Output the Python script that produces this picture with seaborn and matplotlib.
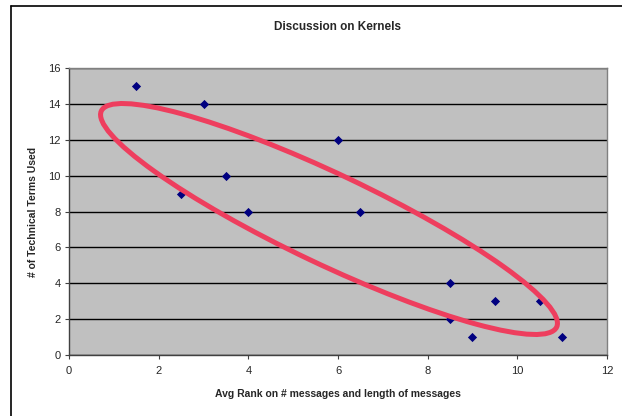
import numpy as np
import pandas as pd
import seaborn as sns
import matplotlib.pyplot as plt
from matplotlib.patches import Ellipse
from matplotlib.lines import Line2D
from matplotlib.transforms import IdentityTransform

# data
avg_rank = [1.5, 3, 6, 3.5, 2.5, 4, 6.5, 8.5, 9.5, 10.5, 8.5, 9, 11]
tech_terms = [15, 14, 12, 10, 9, 8, 8, 4, 3, 3, 2, 1, 1]
x_ticks = [0, 2, 4, 6, 8, 10, 12]
y_ticks = [0, 2, 4, 6, 8, 10, 12, 14, 16]

df = pd.DataFrame({"rank": avg_rank, "terms": tech_terms})

sns.set_style("white")
plt.rcParams["font.family"] = ["Liberation Sans", "DejaVu Sans"]

fig = plt.figure(figsize=(6.22, 4.16), dpi=100)
ax = fig.add_axes([69 / 622, 1 - 355 / 416, (607 - 69) / 622, (355 - 68) / 416])
ax.set_facecolor("#C0C0C0")

sns.scatterplot(x="rank", y="terms", data=df, ax=ax, marker="D", s=22,
                color="#000080", edgecolor="#000080", linewidth=0, zorder=3)

ax.set_xlim(0, 12)
ax.set_ylim(0, 16)
ax.set_xticks(x_ticks)
ax.set_yticks(y_ticks)
ax.yaxis.grid(True, color="black", linewidth=1.0)
ax.set_axisbelow(True)
ax.tick_params(axis="both", direction="out", length=3, width=0.8,
               color="#404040", labelsize=8, left=True, bottom=True)
ax.tick_params(axis="x", pad=5)
ax.tick_params(axis="y", pad=3)
for side in ["left", "bottom"]:
    ax.spines[side].set_color("#404040")
    ax.spines[side].set_linewidth(1.0)
for side in ["top", "right"]:
    ax.spines[side].set_color("#808080")
    ax.spines[side].set_linewidth(1.0)

ax.set_xlabel("Avg Rank on # messages and length of messages",
              fontsize=7.5, fontweight="bold", labelpad=9)
ax.set_ylabel("# of Technical Terms Used", fontsize=7.5, fontweight="bold",
              labelpad=7)
fig.text(338 / 622, 1 - 27 / 416, "Discussion on Kernels", ha="center",
         va="center", fontsize=8.5, fontweight="bold")

# hand drawn red ellipse (pixel space)
fig.canvas.draw()
ell = Ellipse((329, 416 - 219), width=2 * 252, height=2 * 45, angle=-25.4,
              transform=IdentityTransform(), fill=False,
              edgecolor="#EE3E5E", linewidth=3.6, zorder=4)
ax.add_artist(ell)

# partial frame around the chart
fig.add_artist(Line2D([11 / 622, 11 / 622], [0, 1 - 6 / 416], color="black",
                      linewidth=1.2, transform=fig.transFigure))
fig.add_artist(Line2D([11 / 622, 1], [1 - 6 / 416, 1 - 6 / 416], color="black",
                      linewidth=1.2, transform=fig.transFigure))

fig.savefig("out.png", dpi=100)
